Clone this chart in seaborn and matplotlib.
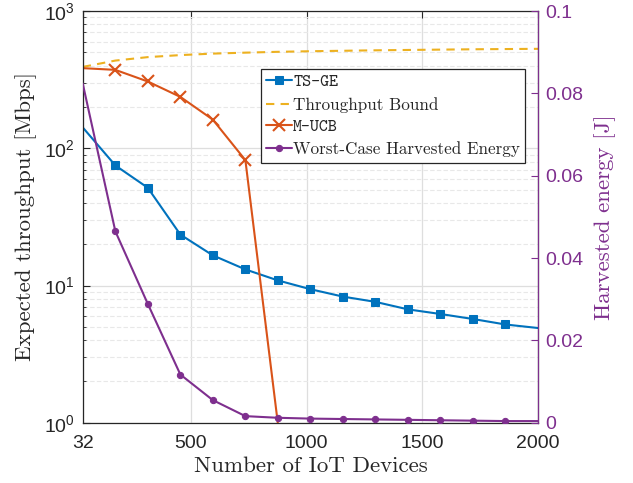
"""Throughput and harvested energy versus number of IoT devices"""

import matplotlib
matplotlib.use("Agg")
import matplotlib.pyplot as plt
import matplotlib.ticker as ticker
import numpy as np
import seaborn as sns

# data
devices = [32, 173, 313, 454, 594, 735, 875, 1016, 1157, 1297, 1438, 1578, 1719, 1859, 2000]
ts_ge = [142, 75, 51.6, 23.5, 16.6, 13.1, 10.9, 9.4, 8.3, 7.6, 6.7, 6.2, 5.7, 5.2, 4.9]
bound = [392, 436, 462, 478, 490, 498, 505, 510, 514, 518, 521, 524, 527, 529, 531]
mucb_devices = [32, 173, 313, 454, 594, 735, 875]
mucb = [384, 373, 307, 237, 162, 82, 1.0]
energy = [0.0824, 0.0465, 0.0289, 0.0117, 0.0055, 0.0016, 0.0012, 0.0010,
          0.0009, 0.0008, 0.0007, 0.0006, 0.0005, 0.0004, 0.0004]

xticks = [32, 500, 1000, 1500, 2000]
yticks_right = [0, 0.02, 0.04, 0.06, 0.08, 0.1]

blue = '#0072BD'; yellow = '#EDB120'; orange = '#D95319'; purple = '#7E2F8E'

sns.set_style("white")
plt.rcParams.update({'font.family': ['Liberation Sans', 'DejaVu Sans'],
                     'mathtext.fontset': 'custom',
                     'mathtext.rm': 'Liberation Sans',
                     'mathtext.it': 'Liberation Sans:italic',
                     'xtick.direction': 'in', 'ytick.direction': 'in'})

fig = plt.figure(figsize=(6.33, 4.83), dpi=100)
ax = fig.add_axes([0.1307, 0.1248, 0.7193, 0.8522])
ax.set_yscale('log')
ax2 = ax.twinx()

mk = list(range(1, 14))
sns.lineplot(x=devices, y=ts_ge, ax=ax, color=blue, lw=1.5, marker='s', markersize=6,
             markeredgecolor=blue, markevery=mk, label='TS-GE', legend=False)
sns.lineplot(x=devices, y=bound, ax=ax, color=yellow, lw=1.5, linestyle=(0, (4, 3)),
             label='Throughput Bound', legend=False)
sns.lineplot(x=mucb_devices, y=mucb, ax=ax, color=orange, lw=1.5, marker='x', markersize=8,
             markeredgewidth=1.5, markeredgecolor=orange, markevery=list(range(1, 6)),
             label='M-UCB', legend=False)
sns.lineplot(x=devices, y=energy, ax=ax2, color=purple, lw=1.5, marker='o', markersize=4.5,
             markeredgecolor=purple, markevery=mk, label='Worst-Case Harvested Energy', legend=False)

ax.set_xlim(32, 2000)
ax.set_ylim(1, 1000)
ax2.set_ylim(0, 0.1)
ax.set_xticks(xticks)
ax.set_xticklabels([str(t) for t in xticks])
ax2.set_yticks(yticks_right)
ax2.set_yticklabels(['0', '0.02', '0.04', '0.06', '0.08', '0.1'])
ax.yaxis.set_minor_locator(ticker.LogLocator(base=10, subs=np.arange(2, 10), numticks=20))
ax.yaxis.set_minor_formatter(ticker.NullFormatter())

# grid
ax.grid(True, which='major', color='#dedede', lw=0.9)
ax.grid(True, which='minor', axis='y', color='#e8e8e8', lw=0.8, linestyle=(0, (4, 2)))
ax.set_axisbelow(True)

ax.tick_params(axis='both', which='major', labelsize=14, length=5, width=0.8,
               colors='#262626', top=True)
ax.tick_params(axis='x', pad=9)
ax.tick_params(axis='y', pad=6)
ax.tick_params(axis='y', which='minor', length=2.5, width=0.6, colors='#262626')
ax2.tick_params(axis='y', labelsize=14, length=5, width=0.8, colors=purple, pad=5)

for s in ax.spines.values():
    s.set_color('#262626')
    s.set_linewidth(0.9)
for s in ax2.spines.values():
    s.set_visible(False)
ax2.spines['right'].set_visible(True)
ax2.spines['right'].set_color(purple)

ax.set_xlabel('Number of IoT Devices', family='cmr10', fontsize=16.5, color='#262626', labelpad=3)
ax.set_ylabel('Expected throughput [Mbps]', family='cmr10', fontsize=16.5, color='#262626', labelpad=5)
ax2.set_ylabel('Harvested energy [J]', family='cmr10', fontsize=16.5, color=purple, labelpad=8)

handles = [l for l in ax.get_lines() if not l.get_label().startswith('_')]
handles += [l for l in ax2.get_lines() if not l.get_label().startswith('_')]
leg = ax2.legend(handles=handles, labels=[h.get_label() for h in handles],
                 loc='upper left', bbox_to_anchor=(0.412, 0.8565), bbox_transform=fig.transFigure,
                 fancybox=False, framealpha=1, edgecolor='#262626', fontsize=12.3,
                 handlelength=1.5, handletextpad=0.1, borderpad=0.3, labelspacing=0.38,
                 borderaxespad=0)
leg.get_frame().set_linewidth(0.9)
for t in leg.get_texts():
    if t.get_text() in ('TS-GE', 'M-UCB'):
        t.set_family('cmtt10')
    else:
        t.set_family('cmr10')

plt.savefig('out.png', dpi=100)
plt.close(fig)
